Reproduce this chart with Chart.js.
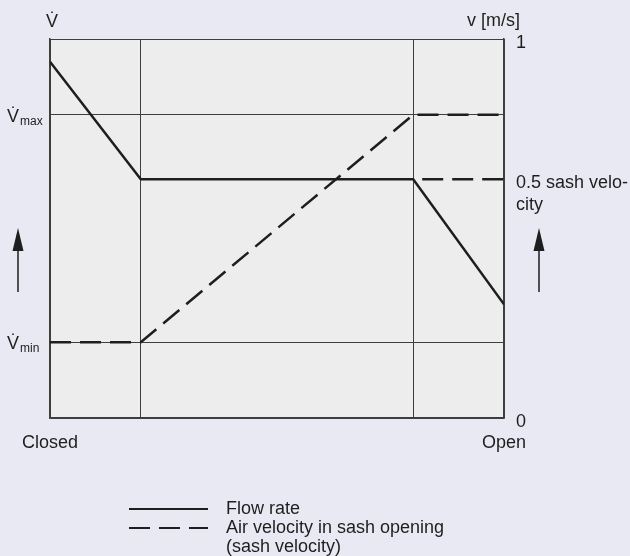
<!DOCTYPE html>
<html>
<head>
<meta charset="utf-8">
<script src="https://cdn.jsdelivr.net/npm/chart.js@4.4.1/dist/chart.umd.min.js"></script>
<style>
  html, body { margin: 0; padding: 0; background: #e9e9f3; }
  #wrap { width: 630px; height: 556px; }
</style>
</head>
<body>
<div id="wrap"><canvas id="chart" width="630" height="556"></canvas></div>
<script>
// sash position from closed (0) to open (1)
const positions = [0, 0.2, 0.8, 1];
const flowRate = [0.94, 0.63, 0.63, 0.3];
const sashVelocity = [0.2, 0.2, 0.8, 0.8];
const halfSashPos = [0.8, 1];
const halfSashVelocity = [0.63, 0.63];

const xTickLabels = ["Closed", "", "", "Open"];
const leftTicks = [0, 0.2, 0.8, 1];
const leftTickLabels = [null, ["V\u0307", "min"], ["V\u0307", "max"], null];
const rightTicks = [0, 0.63, 1];
const rightTickLabels = ["0", ["", "0.5 sash velo-", "city"], "1"];
const legendLabels = [["Flow rate"], ["Air velocity in sash opening", "(sash velocity)"]];

const FONT = "Liberation Sans, Arial, Helvetica, sans-serif";
const INK = "#1e1e1e";
const GRID = "#3e3e3e";

const pts = (xs, ys) => xs.map((x, i) => ({ x: x, y: ys[i] }));

const extras = {
  id: "extras",
  beforeDraw(chart) {
    const { ctx, chartArea: a } = chart;
    ctx.save();
    ctx.fillStyle = "#ecedec";
    ctx.fillRect(a.left, a.top, a.right - a.left, a.bottom - a.top);
    ctx.restore();
  },
  afterDraw(chart) {
    const ctx = chart.ctx;
    const y = chart.scales.y;
    ctx.save();
    ctx.fillStyle = INK;
    ctx.textAlign = "left";
    ctx.textBaseline = "alphabetic";

    // left tick labels with subscripts
    leftTicks.forEach((v, i) => {
      const lab = leftTickLabels[i];
      if (!lab) return;
      const py = y.getPixelForValue(v);
      ctx.font = "18px " + FONT;
      ctx.fillText(lab[0], 7, py + 7);
      ctx.font = "12px " + FONT;
      ctx.fillText(lab[1], 20, py + 10);
    });

    // axis titles
    ctx.font = "18px " + FONT;
    ctx.fillText("V\u0307", 46, 27);
    ctx.textAlign = "right";
    ctx.fillText("v [m/s]", 520, 26);

    // arrows
    ctx.strokeStyle = INK;
    ctx.lineWidth = 1.5;
    [18, 539].forEach(ax => {
      ctx.beginPath();
      ctx.moveTo(ax, 292);
      ctx.lineTo(ax, 248);
      ctx.stroke();
      ctx.beginPath();
      ctx.moveTo(ax, 228);
      ctx.lineTo(ax - 5.5, 251);
      ctx.lineTo(ax + 5.5, 251);
      ctx.closePath();
      ctx.fill();
    });

    // legend
    const rows = [509, 528];
    ctx.textAlign = "left";
    ctx.textBaseline = "middle";
    legendLabels.forEach((lines, i) => {
      const ds = chart.data.datasets[i];
      ctx.save();
      ctx.strokeStyle = ds.borderColor;
      ctx.lineWidth = 2;
      ctx.setLineDash(ds.borderDash || []);
      ctx.beginPath();
      ctx.moveTo(129, rows[i]);
      ctx.lineTo(208, rows[i]);
      ctx.stroke();
      ctx.restore();
      lines.forEach((t, j) => ctx.fillText(t, 226, rows[i] + j * 19));
    });
    ctx.restore();
  }
};

new Chart(document.getElementById("chart"), {
  type: "line",
  data: {
    datasets: [
      {
        label: "Flow rate",
        data: pts(positions, flowRate),
        borderColor: INK,
        borderWidth: 2.5
      },
      {
        label: "Air velocity in sash opening (sash velocity)",
        data: pts(positions, sashVelocity),
        borderColor: INK,
        borderWidth: 2.5,
        borderDash: [21, 9]
      },
      {
        label: "0.5 sash velocity",
        data: pts(halfSashPos, halfSashVelocity),
        borderColor: INK,
        borderWidth: 2.5,
        borderDash: [21, 9],
        borderDashOffset: 21
      }
    ]
  },
  options: {
    responsive: false,
    animation: false,
    layout: { padding: { top: 39 } },
    elements: { point: { radius: 0 }, line: { tension: 0, borderCapStyle: "butt" } },
    plugins: { legend: { display: false }, tooltip: { enabled: false } },
    scales: {
      x: {
        type: "linear",
        min: 0,
        max: 1,
        afterBuildTicks: s => { s.ticks = positions.map(v => ({ value: v })); },
        afterFit: s => { s.height = 138; },
        ticks: {
          autoSkip: false,
          maxRotation: 0,
          padding: 14,
          color: INK,
          font: { family: FONT, size: 18 },
          callback: (v, i) => xTickLabels[i]
        },
        grid: { color: GRID, lineWidth: 1, drawTicks: false },
        border: { color: GRID, width: 1.5 }
      },
      y: {
        position: "left",
        min: 0,
        max: 1,
        afterBuildTicks: s => { s.ticks = leftTicks.map(v => ({ value: v })); },
        afterFit: s => { s.width = 50; },
        ticks: { display: false },
        grid: { color: GRID, lineWidth: 1, drawTicks: false },
        border: { color: GRID, width: 1.5 }
      },
      y2: {
        position: "right",
        min: 0,
        max: 1,
        afterBuildTicks: s => { s.ticks = rightTicks.map(v => ({ value: v })); },
        afterFit: s => { s.width = 126; },
        ticks: {
          padding: 12,
          labelOffset: 4,
          color: INK,
          font: { family: FONT, size: 18 },
          callback: (v, i) => rightTickLabels[i]
        },
        grid: { display: false, drawTicks: false },
        border: { color: GRID, width: 1.5 }
      }
    }
  },
  plugins: [extras]
});
</script>
</body>
</html>
